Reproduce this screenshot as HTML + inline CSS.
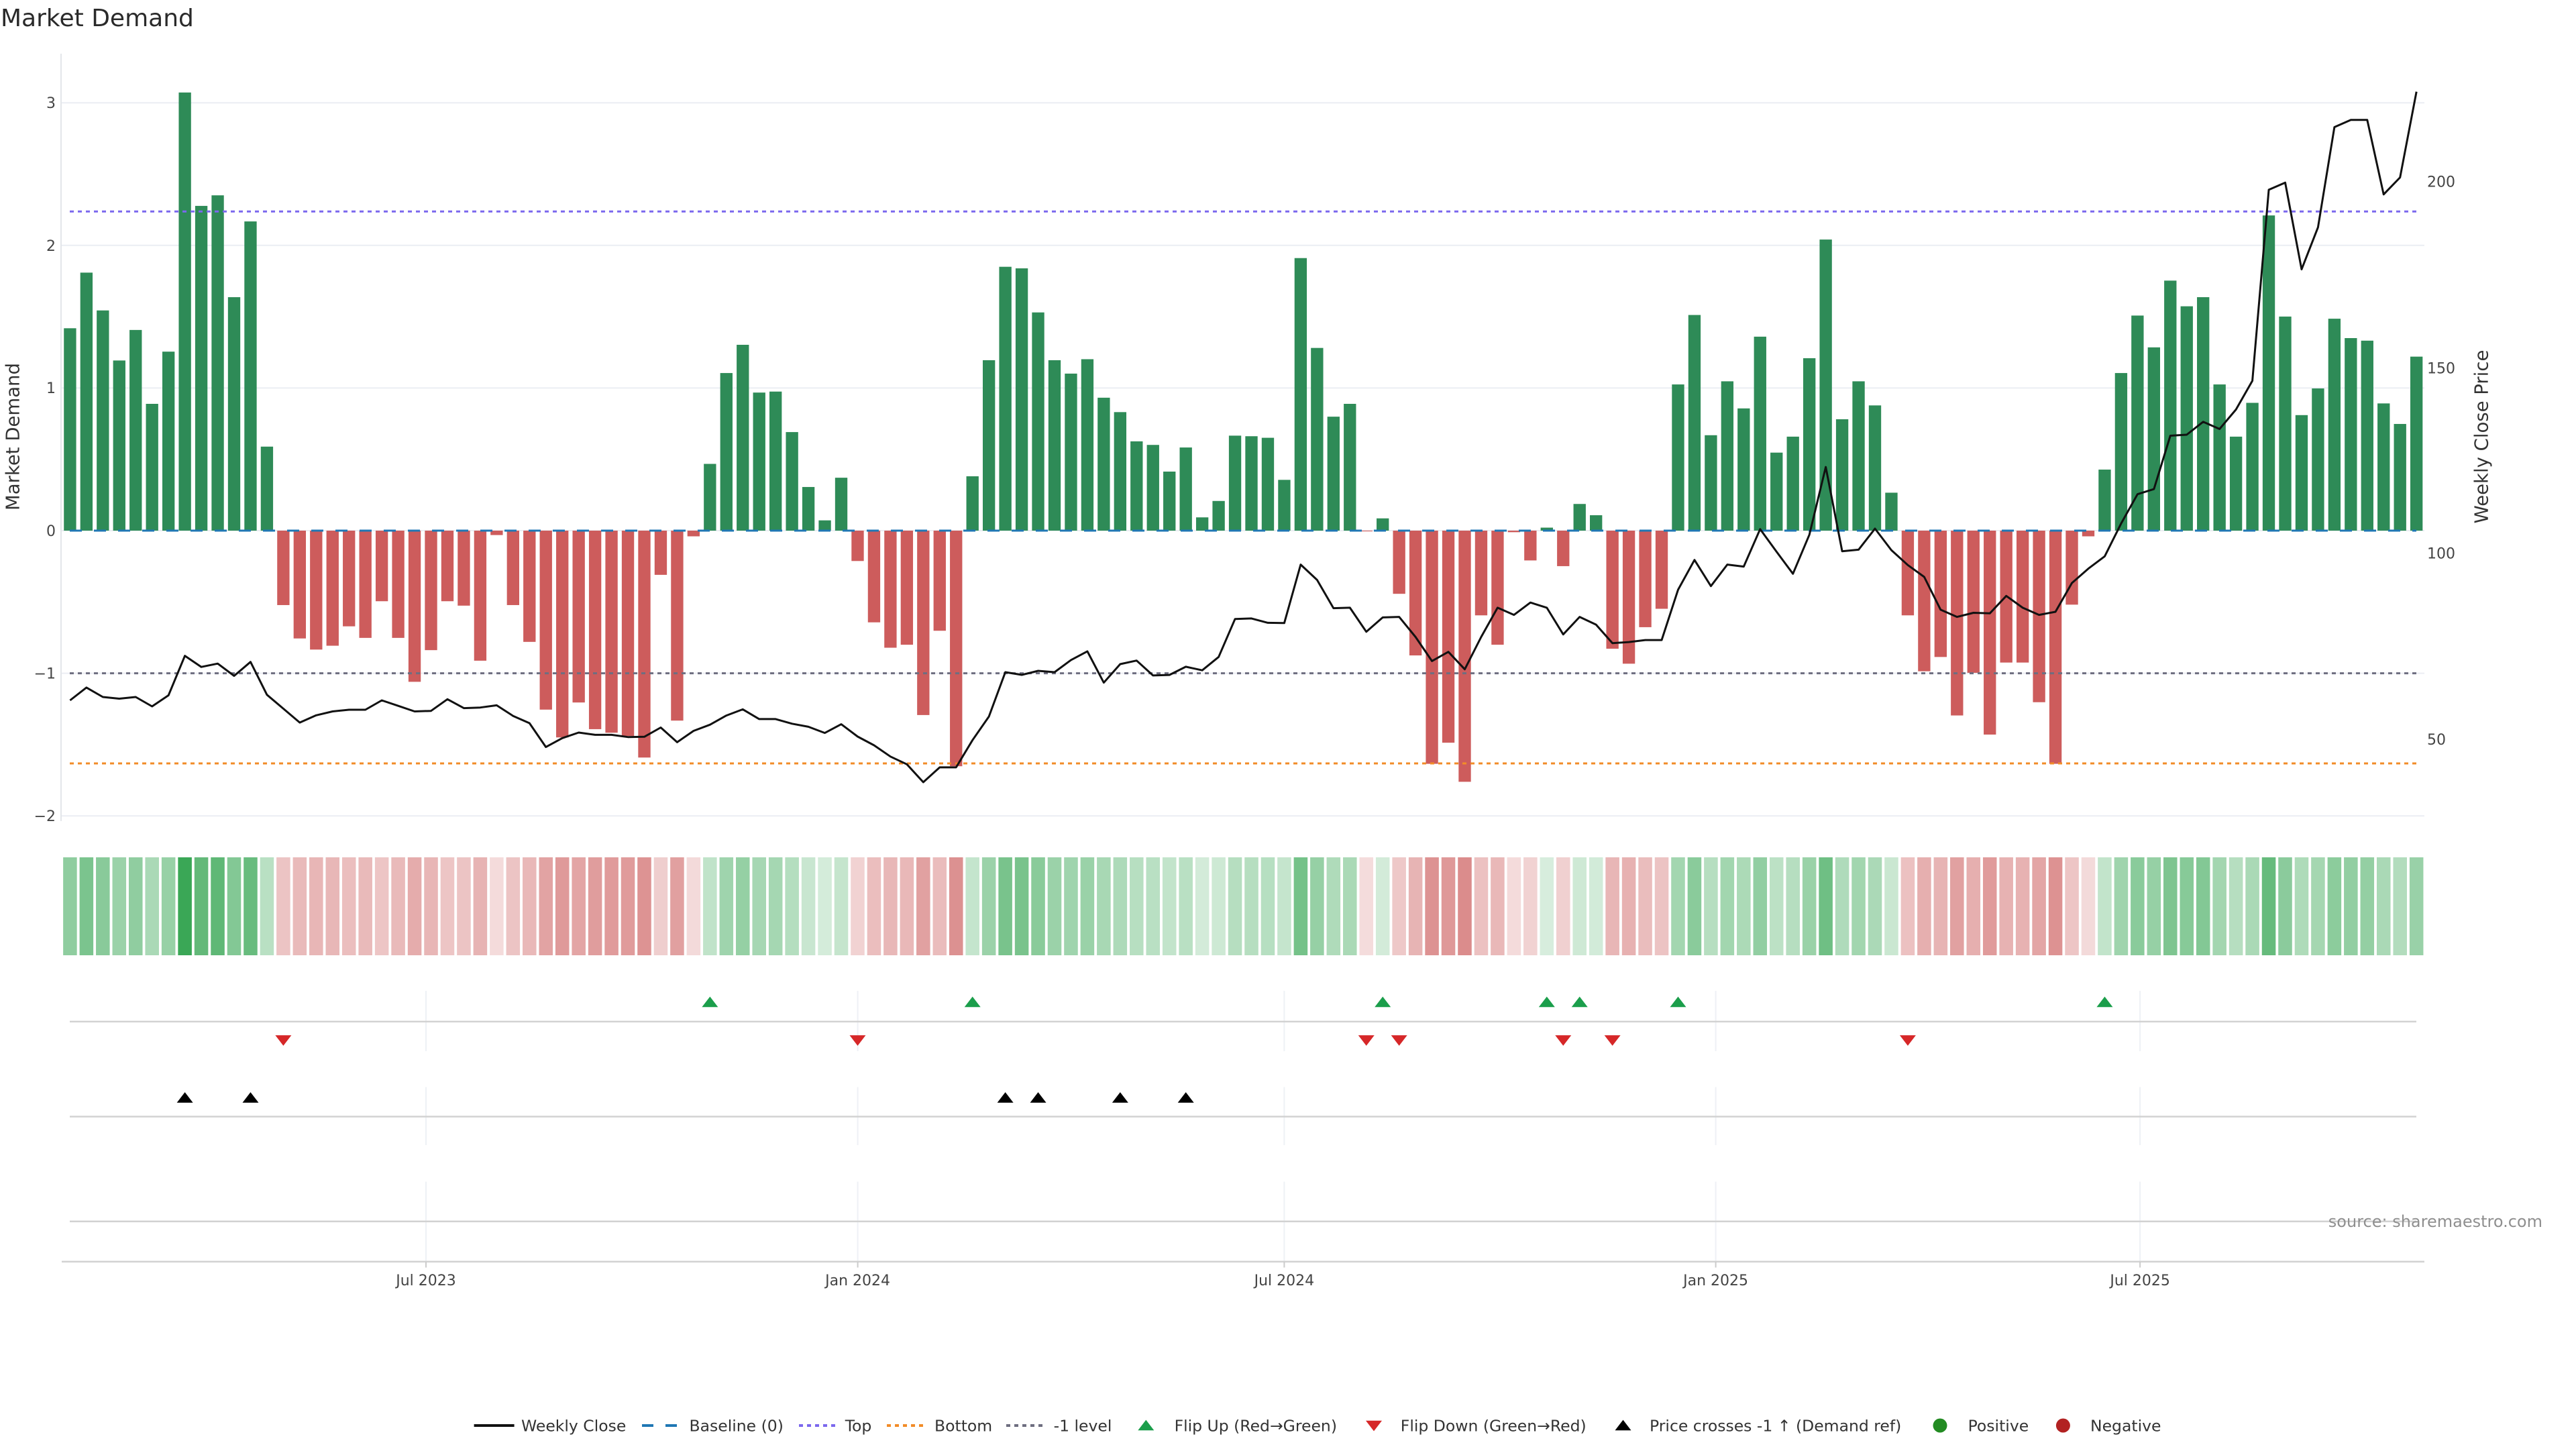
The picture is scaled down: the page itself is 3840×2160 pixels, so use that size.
<!DOCTYPE html>
<html><head><meta charset="utf-8"><title>Market Demand</title>
<style>
html,body{margin:0;padding:0;background:#fff;width:3840px;height:2160px;overflow:hidden}
svg{display:block}
text{font-family:"DejaVu Sans","Liberation Sans",sans-serif}
</style></head>
<body>
<svg width="3840" height="2160" viewBox="0 0 3840 2160" xmlns="http://www.w3.org/2000/svg">
<defs>
<path id="tu" d="M-12,5.2H12L0,-10.4Z"/>
<path id="td" d="M-12,-5.2H12L0,10.4Z"/>
</defs>
<rect width="3840" height="2160" fill="#fff"/>
<text x="1" y="39" font-size="36" fill="#2a2a2a">Market Demand</text>

<g stroke="#ebeef3" stroke-width="2">
<line x1="91" y1="153.2" x2="3614" y2="153.2"/>
<line x1="91" y1="365.8" x2="3614" y2="365.8"/>
<line x1="91" y1="578.4" x2="3614" y2="578.4"/>
<line x1="91" y1="791" x2="3614" y2="791"/>
<line x1="91" y1="1003.6" x2="3614" y2="1003.6"/>
<line x1="91" y1="1216.2" x2="3614" y2="1216.2"/>
</g>
<line x1="91" y1="80" x2="91" y2="1224" stroke="#e3e6ea" stroke-width="2"/>

<g font-size="22" fill="#444" text-anchor="end">
<text x="83" y="161">3</text>
<text x="83" y="374">2</text>
<text x="83" y="586">1</text>
<text x="83" y="799">0</text>
<text x="83" y="1011.6">−1</text>
<text x="83" y="1224">−2</text>
</g>
<text transform="translate(28.5,651) rotate(-90)" text-anchor="middle" font-size="27.5" fill="#333">Market Demand</text>

<g font-size="22" fill="#444">
<text x="3618" y="278.7">200</text>
<text x="3618" y="556.5">150</text>
<text x="3618" y="832.7">100</text>
<text x="3618" y="1109.8">50</text>
</g>
<text transform="translate(3708.5,651) rotate(-90)" text-anchor="middle" font-size="27.5" fill="#333">Weekly Close Price</text>

<g transform="translate(104.4,791) scale(24.46,-212.6)">
<g fill="#2e8b57">
<rect x="-0.375" y="0" width="0.75" height="1.419"/>
<rect x="0.625" y="0" width="0.75" height="1.809"/>
<rect x="1.625" y="0" width="0.75" height="1.544"/>
<rect x="2.625" y="0" width="0.75" height="1.193"/>
<rect x="3.625" y="0" width="0.75" height="1.407"/>
<rect x="4.625" y="0" width="0.75" height="0.889"/>
<rect x="5.625" y="0" width="0.75" height="1.255"/>
<rect x="6.625" y="0" width="0.75" height="3.072"/>
<rect x="7.625" y="0" width="0.75" height="2.277"/>
<rect x="8.625" y="0" width="0.75" height="2.351"/>
<rect x="9.625" y="0" width="0.75" height="1.637"/>
<rect x="10.625" y="0" width="0.75" height="2.168"/>
<rect x="11.625" y="0" width="0.75" height="0.589"/>
<rect x="38.625" y="0" width="0.75" height="0.468"/>
<rect x="39.625" y="0" width="0.75" height="1.105"/>
<rect x="40.625" y="0" width="0.75" height="1.303"/>
<rect x="41.625" y="0" width="0.75" height="0.968"/>
<rect x="42.625" y="0" width="0.75" height="0.975"/>
<rect x="43.625" y="0" width="0.75" height="0.691"/>
<rect x="44.625" y="0" width="0.75" height="0.306"/>
<rect x="45.625" y="0" width="0.75" height="0.072"/>
<rect x="46.625" y="0" width="0.75" height="0.371"/>
<rect x="54.625" y="0" width="0.75" height="0.381"/>
<rect x="55.625" y="0" width="0.75" height="1.195"/>
<rect x="56.625" y="0" width="0.75" height="1.85"/>
<rect x="57.625" y="0" width="0.75" height="1.839"/>
<rect x="58.625" y="0" width="0.75" height="1.53"/>
<rect x="59.625" y="0" width="0.75" height="1.195"/>
<rect x="60.625" y="0" width="0.75" height="1.101"/>
<rect x="61.625" y="0" width="0.75" height="1.202"/>
<rect x="62.625" y="0" width="0.75" height="0.932"/>
<rect x="63.625" y="0" width="0.75" height="0.831"/>
<rect x="64.625" y="0" width="0.75" height="0.626"/>
<rect x="65.625" y="0" width="0.75" height="0.601"/>
<rect x="66.625" y="0" width="0.75" height="0.414"/>
<rect x="67.625" y="0" width="0.75" height="0.583"/>
<rect x="68.625" y="0" width="0.75" height="0.093"/>
<rect x="69.625" y="0" width="0.75" height="0.208"/>
<rect x="70.625" y="0" width="0.75" height="0.666"/>
<rect x="71.625" y="0" width="0.75" height="0.662"/>
<rect x="72.625" y="0" width="0.75" height="0.651"/>
<rect x="73.625" y="0" width="0.75" height="0.356"/>
<rect x="74.625" y="0" width="0.75" height="1.911"/>
<rect x="75.625" y="0" width="0.75" height="1.281"/>
<rect x="76.625" y="0" width="0.75" height="0.799"/>
<rect x="77.625" y="0" width="0.75" height="0.889"/>
<rect x="79.625" y="0" width="0.75" height="0.086"/>
<rect x="89.625" y="0" width="0.75" height="0.021"/>
<rect x="91.625" y="0" width="0.75" height="0.187"/>
<rect x="92.625" y="0" width="0.75" height="0.108"/>
<rect x="97.625" y="0" width="0.75" height="1.025"/>
<rect x="98.625" y="0" width="0.75" height="1.512"/>
<rect x="99.625" y="0" width="0.75" height="0.669"/>
<rect x="100.625" y="0" width="0.75" height="1.047"/>
<rect x="101.625" y="0" width="0.75" height="0.857"/>
<rect x="102.625" y="0" width="0.75" height="1.36"/>
<rect x="103.625" y="0" width="0.75" height="0.547"/>
<rect x="104.625" y="0" width="0.75" height="0.659"/>
<rect x="105.625" y="0" width="0.75" height="1.209"/>
<rect x="106.625" y="0" width="0.75" height="2.041"/>
<rect x="107.625" y="0" width="0.75" height="0.781"/>
<rect x="108.625" y="0" width="0.75" height="1.047"/>
<rect x="109.625" y="0" width="0.75" height="0.878"/>
<rect x="110.625" y="0" width="0.75" height="0.266"/>
<rect x="123.625" y="0" width="0.75" height="0.428"/>
<rect x="124.625" y="0" width="0.75" height="1.105"/>
<rect x="125.625" y="0" width="0.75" height="1.508"/>
<rect x="126.625" y="0" width="0.75" height="1.285"/>
<rect x="127.625" y="0" width="0.75" height="1.753"/>
<rect x="128.625" y="0" width="0.75" height="1.573"/>
<rect x="129.625" y="0" width="0.75" height="1.637"/>
<rect x="130.625" y="0" width="0.75" height="1.025"/>
<rect x="131.625" y="0" width="0.75" height="0.659"/>
<rect x="132.625" y="0" width="0.75" height="0.896"/>
<rect x="133.625" y="0" width="0.75" height="2.21"/>
<rect x="134.625" y="0" width="0.75" height="1.501"/>
<rect x="135.625" y="0" width="0.75" height="0.81"/>
<rect x="136.625" y="0" width="0.75" height="0.997"/>
<rect x="137.625" y="0" width="0.75" height="1.486"/>
<rect x="138.625" y="0" width="0.75" height="1.35"/>
<rect x="139.625" y="0" width="0.75" height="1.332"/>
<rect x="140.625" y="0" width="0.75" height="0.892"/>
<rect x="141.625" y="0" width="0.75" height="0.748"/>
<rect x="142.625" y="0" width="0.75" height="1.22"/>
</g>
<g fill="#cd5c5c">
<rect x="12.625" y="-0.522" width="0.75" height="0.522"/>
<rect x="13.625" y="-0.756" width="0.75" height="0.756"/>
<rect x="14.625" y="-0.834" width="0.75" height="0.834"/>
<rect x="15.625" y="-0.807" width="0.75" height="0.807"/>
<rect x="16.625" y="-0.671" width="0.75" height="0.671"/>
<rect x="17.625" y="-0.752" width="0.75" height="0.752"/>
<rect x="18.625" y="-0.495" width="0.75" height="0.495"/>
<rect x="19.625" y="-0.752" width="0.75" height="0.752"/>
<rect x="20.625" y="-1.06" width="0.75" height="1.06"/>
<rect x="21.625" y="-0.838" width="0.75" height="0.838"/>
<rect x="22.625" y="-0.495" width="0.75" height="0.495"/>
<rect x="23.625" y="-0.526" width="0.75" height="0.526"/>
<rect x="24.625" y="-0.912" width="0.75" height="0.912"/>
<rect x="25.625" y="-0.031" width="0.75" height="0.031"/>
<rect x="26.625" y="-0.522" width="0.75" height="0.522"/>
<rect x="27.625" y="-0.78" width="0.75" height="0.78"/>
<rect x="28.625" y="-1.255" width="0.75" height="1.255"/>
<rect x="29.625" y="-1.45" width="0.75" height="1.45"/>
<rect x="30.625" y="-1.205" width="0.75" height="1.205"/>
<rect x="31.625" y="-1.392" width="0.75" height="1.392"/>
<rect x="32.625" y="-1.417" width="0.75" height="1.417"/>
<rect x="33.625" y="-1.44" width="0.75" height="1.44"/>
<rect x="34.625" y="-1.591" width="0.75" height="1.591"/>
<rect x="35.625" y="-0.31" width="0.75" height="0.31"/>
<rect x="36.625" y="-1.332" width="0.75" height="1.332"/>
<rect x="37.625" y="-0.04" width="0.75" height="0.04"/>
<rect x="47.625" y="-0.213" width="0.75" height="0.213"/>
<rect x="48.625" y="-0.643" width="0.75" height="0.643"/>
<rect x="49.625" y="-0.821" width="0.75" height="0.821"/>
<rect x="50.625" y="-0.8" width="0.75" height="0.8"/>
<rect x="51.625" y="-1.293" width="0.75" height="1.293"/>
<rect x="52.625" y="-0.702" width="0.75" height="0.702"/>
<rect x="53.625" y="-1.652" width="0.75" height="1.652"/>
<rect x="78.625" y="-0.005" width="0.75" height="0.005"/>
<rect x="80.625" y="-0.443" width="0.75" height="0.443"/>
<rect x="81.625" y="-0.875" width="0.75" height="0.875"/>
<rect x="82.625" y="-1.635" width="0.75" height="1.635"/>
<rect x="83.625" y="-1.487" width="0.75" height="1.487"/>
<rect x="84.625" y="-1.761" width="0.75" height="1.761"/>
<rect x="85.625" y="-0.594" width="0.75" height="0.594"/>
<rect x="86.625" y="-0.8" width="0.75" height="0.8"/>
<rect x="87.625" y="-0.011" width="0.75" height="0.011"/>
<rect x="88.625" y="-0.209" width="0.75" height="0.209"/>
<rect x="90.625" y="-0.249" width="0.75" height="0.249"/>
<rect x="93.625" y="-0.828" width="0.75" height="0.828"/>
<rect x="94.625" y="-0.933" width="0.75" height="0.933"/>
<rect x="95.625" y="-0.677" width="0.75" height="0.677"/>
<rect x="96.625" y="-0.548" width="0.75" height="0.548"/>
<rect x="111.625" y="-0.594" width="0.75" height="0.594"/>
<rect x="112.625" y="-0.986" width="0.75" height="0.986"/>
<rect x="113.625" y="-0.886" width="0.75" height="0.886"/>
<rect x="114.625" y="-1.296" width="0.75" height="1.296"/>
<rect x="115.625" y="-0.997" width="0.75" height="0.997"/>
<rect x="116.625" y="-1.43" width="0.75" height="1.43"/>
<rect x="117.625" y="-0.925" width="0.75" height="0.925"/>
<rect x="118.625" y="-0.925" width="0.75" height="0.925"/>
<rect x="119.625" y="-1.203" width="0.75" height="1.203"/>
<rect x="120.625" y="-1.635" width="0.75" height="1.635"/>
<rect x="121.625" y="-0.519" width="0.75" height="0.519"/>
<rect x="122.625" y="-0.04" width="0.75" height="0.04"/>
</g>
</g>

<line x1="104" y1="791" x2="3602" y2="791" stroke="#1f77b4" stroke-width="3" stroke-dasharray="18 18"/>
<line x1="104" y1="315.2" x2="3602" y2="315.2" stroke="#7b68ee" stroke-width="3" stroke-dasharray="6 6"/>
<line x1="104" y1="1003.6" x2="3602" y2="1003.6" stroke="#6e6e80" stroke-width="3" stroke-dasharray="6 6"/>
<line x1="104" y1="1138" x2="3602" y2="1138" stroke="#f28c28" stroke-width="3" stroke-dasharray="6 6"/>

<polyline transform="translate(104.4,0) scale(24.46,1)" vector-effect="non-scaling-stroke" fill="none" stroke="#111" stroke-width="3" stroke-linejoin="round" points="0,1044 1,1024.9 2,1039 3,1041.5 4,1039 5,1053 6,1036.5 7,977.6 8,994.2 9,989.2 10,1007.5 11,986.7 12,1035.7 13,1056.4 14,1077.1 15,1066.3 16,1060.5 17,1058 18,1058 19,1044 20,1052.2 21,1060.5 22,1059.7 23,1042.3 24,1055.6 25,1054.7 26,1051.4 27,1067.2 28,1078 29,1113.6 30,1100.3 31,1092 32,1095.4 33,1095.4 34,1098.7 35,1098.3 36,1084.5 37,1106.4 38,1089.5 39,1080.3 40,1066.6 41,1057.4 42,1071.9 43,1071.9 44,1078.8 45,1083.4 46,1092.6 47,1079.6 48,1098 49,1111 50,1127.8 51,1139.3 52,1166 53,1143.9 54,1143.9 55,1103.3 56,1068.1 57,1002 58,1006 59,1000 60,1002 61,983.9 62,970.9 63,1017.6 64,990 65,984.7 66,1006.9 67,1006.1 68,993.9 69,999.2 70,979.3 71,922.7 72,921.9 73,928.4 74,928.8 75,841.6 76,864.5 77,906.6 78,905.9 79,941.8 80,920.4 81,919.6 82,949.5 83,985.4 84,971.7 85,997.7 86,949.5 87,905.9 88,916.6 89,898.2 90,905.9 91,945.7 92,919.6 93,931.1 94,958.7 95,957.1 96,954.1 97,954.1 98,879.1 99,834.7 100,873.7 101,841.6 102,844.6 103,788.8 104,822.4 105,855.3 106,797.2 107,696.2 108,821.7 109,819.4 110,788 111,820.1 112,842.3 113,860 114,908.9 115,919.6 116,913.5 117,914.3 118,888.3 119,905.9 120,916.6 121,912 122,869.1 123,847.7 124,829.3 125,780.4 126,736.7 127,729.1 128,649.5 129,648 130,628.8 131,639.5 132,610.5 133,567.6 134,282.9 135,272.2 136,401.5 137,338.8 138,189.5 139,178.8 140,178.8 141,289.8 142,264.5 143,136.7"/>

<g transform="translate(104.4,0) scale(24.46,1)">
<g fill="#3aa756">
<rect x="-0.42" y="1278" width="0.84" height="146" fill-opacity=".569"/>
<rect x="0.58" y="1278" width="0.84" height="146" fill-opacity=".670"/>
<rect x="1.58" y="1278" width="0.84" height="146" fill-opacity=".601"/>
<rect x="2.58" y="1278" width="0.84" height="146" fill-opacity=".510"/>
<rect x="3.58" y="1278" width="0.84" height="146" fill-opacity=".566"/>
<rect x="4.58" y="1278" width="0.84" height="146" fill-opacity=".431"/>
<rect x="5.58" y="1278" width="0.84" height="146" fill-opacity=".526"/>
<rect x="6.58" y="1278" width="0.84" height="146" fill-opacity="1"/>
<rect x="7.58" y="1278" width="0.84" height="146" fill-opacity=".792"/>
<rect x="8.58" y="1278" width="0.84" height="146" fill-opacity=".811"/>
<rect x="9.58" y="1278" width="0.84" height="146" fill-opacity=".626"/>
<rect x="10.58" y="1278" width="0.84" height="146" fill-opacity=".764"/>
<rect x="11.58" y="1278" width="0.84" height="146" fill-opacity=".353"/>
<rect x="38.58" y="1278" width="0.84" height="146" fill-opacity=".322"/>
<rect x="39.58" y="1278" width="0.84" height="146" fill-opacity=".487"/>
<rect x="40.58" y="1278" width="0.84" height="146" fill-opacity=".539"/>
<rect x="41.58" y="1278" width="0.84" height="146" fill-opacity=".452"/>
<rect x="42.58" y="1278" width="0.84" height="146" fill-opacity=".454"/>
<rect x="43.58" y="1278" width="0.84" height="146" fill-opacity=".380"/>
<rect x="44.58" y="1278" width="0.84" height="146" fill-opacity=".280"/>
<rect x="45.58" y="1278" width="0.84" height="146" fill-opacity=".219"/>
<rect x="46.58" y="1278" width="0.84" height="146" fill-opacity=".296"/>
<rect x="54.58" y="1278" width="0.84" height="146" fill-opacity=".299"/>
<rect x="55.58" y="1278" width="0.84" height="146" fill-opacity=".511"/>
<rect x="56.58" y="1278" width="0.84" height="146" fill-opacity=".681"/>
<rect x="57.58" y="1278" width="0.84" height="146" fill-opacity=".678"/>
<rect x="58.58" y="1278" width="0.84" height="146" fill-opacity=".598"/>
<rect x="59.58" y="1278" width="0.84" height="146" fill-opacity=".511"/>
<rect x="60.58" y="1278" width="0.84" height="146" fill-opacity=".486"/>
<rect x="61.58" y="1278" width="0.84" height="146" fill-opacity=".513"/>
<rect x="62.58" y="1278" width="0.84" height="146" fill-opacity=".442"/>
<rect x="63.58" y="1278" width="0.84" height="146" fill-opacity=".416"/>
<rect x="64.58" y="1278" width="0.84" height="146" fill-opacity=".363"/>
<rect x="65.58" y="1278" width="0.84" height="146" fill-opacity=".356"/>
<rect x="66.58" y="1278" width="0.84" height="146" fill-opacity=".308"/>
<rect x="67.58" y="1278" width="0.84" height="146" fill-opacity=".352"/>
<rect x="68.58" y="1278" width="0.84" height="146" fill-opacity=".224"/>
<rect x="69.58" y="1278" width="0.84" height="146" fill-opacity=".254"/>
<rect x="70.58" y="1278" width="0.84" height="146" fill-opacity=".373"/>
<rect x="71.58" y="1278" width="0.84" height="146" fill-opacity=".372"/>
<rect x="72.58" y="1278" width="0.84" height="146" fill-opacity=".369"/>
<rect x="73.58" y="1278" width="0.84" height="146" fill-opacity=".293"/>
<rect x="74.58" y="1278" width="0.84" height="146" fill-opacity=".697"/>
<rect x="75.58" y="1278" width="0.84" height="146" fill-opacity=".533"/>
<rect x="76.58" y="1278" width="0.84" height="146" fill-opacity=".408"/>
<rect x="77.58" y="1278" width="0.84" height="146" fill-opacity=".431"/>
<rect x="79.58" y="1278" width="0.84" height="146" fill-opacity=".222"/>
<rect x="89.58" y="1278" width="0.84" height="146" fill-opacity=".205"/>
<rect x="91.58" y="1278" width="0.84" height="146" fill-opacity=".249"/>
<rect x="92.58" y="1278" width="0.84" height="146" fill-opacity=".228"/>
<rect x="97.58" y="1278" width="0.84" height="146" fill-opacity=".467"/>
<rect x="98.58" y="1278" width="0.84" height="146" fill-opacity=".593"/>
<rect x="99.58" y="1278" width="0.84" height="146" fill-opacity=".374"/>
<rect x="100.58" y="1278" width="0.84" height="146" fill-opacity=".472"/>
<rect x="101.58" y="1278" width="0.84" height="146" fill-opacity=".423"/>
<rect x="102.58" y="1278" width="0.84" height="146" fill-opacity=".554"/>
<rect x="103.58" y="1278" width="0.84" height="146" fill-opacity=".342"/>
<rect x="104.58" y="1278" width="0.84" height="146" fill-opacity=".371"/>
<rect x="105.58" y="1278" width="0.84" height="146" fill-opacity=".514"/>
<rect x="106.58" y="1278" width="0.84" height="146" fill-opacity=".731"/>
<rect x="107.58" y="1278" width="0.84" height="146" fill-opacity=".403"/>
<rect x="108.58" y="1278" width="0.84" height="146" fill-opacity=".472"/>
<rect x="109.58" y="1278" width="0.84" height="146" fill-opacity=".428"/>
<rect x="110.58" y="1278" width="0.84" height="146" fill-opacity=".269"/>
<rect x="123.58" y="1278" width="0.84" height="146" fill-opacity=".311"/>
<rect x="124.58" y="1278" width="0.84" height="146" fill-opacity=".487"/>
<rect x="125.58" y="1278" width="0.84" height="146" fill-opacity=".592"/>
<rect x="126.58" y="1278" width="0.84" height="146" fill-opacity=".534"/>
<rect x="127.58" y="1278" width="0.84" height="146" fill-opacity=".656"/>
<rect x="128.58" y="1278" width="0.84" height="146" fill-opacity=".609"/>
<rect x="129.58" y="1278" width="0.84" height="146" fill-opacity=".626"/>
<rect x="130.58" y="1278" width="0.84" height="146" fill-opacity=".467"/>
<rect x="131.58" y="1278" width="0.84" height="146" fill-opacity=".371"/>
<rect x="132.58" y="1278" width="0.84" height="146" fill-opacity=".433"/>
<rect x="133.58" y="1278" width="0.84" height="146" fill-opacity=".775"/>
<rect x="134.58" y="1278" width="0.84" height="146" fill-opacity=".590"/>
<rect x="135.58" y="1278" width="0.84" height="146" fill-opacity=".411"/>
<rect x="136.58" y="1278" width="0.84" height="146" fill-opacity=".459"/>
<rect x="137.58" y="1278" width="0.84" height="146" fill-opacity=".586"/>
<rect x="138.58" y="1278" width="0.84" height="146" fill-opacity=".551"/>
<rect x="139.58" y="1278" width="0.84" height="146" fill-opacity=".546"/>
<rect x="140.58" y="1278" width="0.84" height="146" fill-opacity=".432"/>
<rect x="141.58" y="1278" width="0.84" height="146" fill-opacity=".394"/>
<rect x="142.58" y="1278" width="0.84" height="146" fill-opacity=".517"/>
</g>
<g fill="#c85050">
<rect x="12.58" y="1278" width="0.84" height="146" fill-opacity=".336"/>
<rect x="13.58" y="1278" width="0.84" height="146" fill-opacity=".397"/>
<rect x="14.58" y="1278" width="0.84" height="146" fill-opacity=".417"/>
<rect x="15.58" y="1278" width="0.84" height="146" fill-opacity=".410"/>
<rect x="16.58" y="1278" width="0.84" height="146" fill-opacity=".374"/>
<rect x="17.58" y="1278" width="0.84" height="146" fill-opacity=".396"/>
<rect x="18.58" y="1278" width="0.84" height="146" fill-opacity=".329"/>
<rect x="19.58" y="1278" width="0.84" height="146" fill-opacity=".396"/>
<rect x="20.58" y="1278" width="0.84" height="146" fill-opacity=".476"/>
<rect x="21.58" y="1278" width="0.84" height="146" fill-opacity=".418"/>
<rect x="22.58" y="1278" width="0.84" height="146" fill-opacity=".329"/>
<rect x="23.58" y="1278" width="0.84" height="146" fill-opacity=".337"/>
<rect x="24.58" y="1278" width="0.84" height="146" fill-opacity=".437"/>
<rect x="25.58" y="1278" width="0.84" height="146" fill-opacity=".208"/>
<rect x="26.58" y="1278" width="0.84" height="146" fill-opacity=".336"/>
<rect x="27.58" y="1278" width="0.84" height="146" fill-opacity=".403"/>
<rect x="28.58" y="1278" width="0.84" height="146" fill-opacity=".526"/>
<rect x="29.58" y="1278" width="0.84" height="146" fill-opacity=".577"/>
<rect x="30.58" y="1278" width="0.84" height="146" fill-opacity=".513"/>
<rect x="31.58" y="1278" width="0.84" height="146" fill-opacity=".562"/>
<rect x="32.58" y="1278" width="0.84" height="146" fill-opacity=".568"/>
<rect x="33.58" y="1278" width="0.84" height="146" fill-opacity=".574"/>
<rect x="34.58" y="1278" width="0.84" height="146" fill-opacity=".614"/>
<rect x="35.58" y="1278" width="0.84" height="146" fill-opacity=".281"/>
<rect x="36.58" y="1278" width="0.84" height="146" fill-opacity=".546"/>
<rect x="37.58" y="1278" width="0.84" height="146" fill-opacity=".210"/>
<rect x="47.58" y="1278" width="0.84" height="146" fill-opacity=".255"/>
<rect x="48.58" y="1278" width="0.84" height="146" fill-opacity=".367"/>
<rect x="49.58" y="1278" width="0.84" height="146" fill-opacity=".413"/>
<rect x="50.58" y="1278" width="0.84" height="146" fill-opacity=".408"/>
<rect x="51.58" y="1278" width="0.84" height="146" fill-opacity=".536"/>
<rect x="52.58" y="1278" width="0.84" height="146" fill-opacity=".383"/>
<rect x="53.58" y="1278" width="0.84" height="146" fill-opacity=".630"/>
<rect x="78.58" y="1278" width="0.84" height="146" fill-opacity=".201"/>
<rect x="80.58" y="1278" width="0.84" height="146" fill-opacity=".315"/>
<rect x="81.58" y="1278" width="0.84" height="146" fill-opacity=".428"/>
<rect x="82.58" y="1278" width="0.84" height="146" fill-opacity=".625"/>
<rect x="83.58" y="1278" width="0.84" height="146" fill-opacity=".587"/>
<rect x="84.58" y="1278" width="0.84" height="146" fill-opacity=".658"/>
<rect x="85.58" y="1278" width="0.84" height="146" fill-opacity=".354"/>
<rect x="86.58" y="1278" width="0.84" height="146" fill-opacity=".408"/>
<rect x="87.58" y="1278" width="0.84" height="146" fill-opacity=".203"/>
<rect x="88.58" y="1278" width="0.84" height="146" fill-opacity=".254"/>
<rect x="90.58" y="1278" width="0.84" height="146" fill-opacity=".265"/>
<rect x="93.58" y="1278" width="0.84" height="146" fill-opacity=".415"/>
<rect x="94.58" y="1278" width="0.84" height="146" fill-opacity=".443"/>
<rect x="95.58" y="1278" width="0.84" height="146" fill-opacity=".376"/>
<rect x="96.58" y="1278" width="0.84" height="146" fill-opacity=".342"/>
<rect x="111.58" y="1278" width="0.84" height="146" fill-opacity=".354"/>
<rect x="112.58" y="1278" width="0.84" height="146" fill-opacity=".456"/>
<rect x="113.58" y="1278" width="0.84" height="146" fill-opacity=".430"/>
<rect x="114.58" y="1278" width="0.84" height="146" fill-opacity=".537"/>
<rect x="115.58" y="1278" width="0.84" height="146" fill-opacity=".459"/>
<rect x="116.58" y="1278" width="0.84" height="146" fill-opacity=".572"/>
<rect x="117.58" y="1278" width="0.84" height="146" fill-opacity=".441"/>
<rect x="118.58" y="1278" width="0.84" height="146" fill-opacity=".441"/>
<rect x="119.58" y="1278" width="0.84" height="146" fill-opacity=".513"/>
<rect x="120.58" y="1278" width="0.84" height="146" fill-opacity=".625"/>
<rect x="121.58" y="1278" width="0.84" height="146" fill-opacity=".335"/>
<rect x="122.58" y="1278" width="0.84" height="146" fill-opacity=".210"/>
</g>
</g>

<g stroke="#eef1f5" stroke-width="2">
<line x1="635" y1="1477" x2="635" y2="1567"/><line x1="1278.6" y1="1477" x2="1278.6" y2="1567"/><line x1="1914.4" y1="1477" x2="1914.4" y2="1567"/><line x1="2557.6" y1="1477" x2="2557.6" y2="1567"/><line x1="3190.1" y1="1477" x2="3190.1" y2="1567"/>
<line x1="635" y1="1620.5" x2="635" y2="1707"/><line x1="1278.6" y1="1620.5" x2="1278.6" y2="1707"/><line x1="1914.4" y1="1620.5" x2="1914.4" y2="1707"/><line x1="2557.6" y1="1620.5" x2="2557.6" y2="1707"/><line x1="3190.1" y1="1620.5" x2="3190.1" y2="1707"/>
<line x1="635" y1="1761.5" x2="635" y2="1880"/><line x1="1278.6" y1="1761.5" x2="1278.6" y2="1880"/><line x1="1914.4" y1="1761.5" x2="1914.4" y2="1880"/><line x1="2557.6" y1="1761.5" x2="2557.6" y2="1880"/><line x1="3190.1" y1="1761.5" x2="3190.1" y2="1880"/>
</g>
<g stroke="#d2d2d2" stroke-width="2.5">
<line x1="104" y1="1522.9" x2="3602" y2="1522.9"/>
<line x1="104" y1="1664.5" x2="3602" y2="1664.5"/>
<line x1="104" y1="1820.7" x2="3602" y2="1820.7"/>
<line x1="92" y1="1880.7" x2="3614" y2="1880.7"/>
</g>
<g stroke="#cccccc" stroke-width="2">
<line x1="635" y1="1880.7" x2="635" y2="1889.5"/><line x1="1278.6" y1="1880.7" x2="1278.6" y2="1889.5"/><line x1="1914.4" y1="1880.7" x2="1914.4" y2="1889.5"/><line x1="2557.6" y1="1880.7" x2="2557.6" y2="1889.5"/><line x1="3190.1" y1="1880.7" x2="3190.1" y2="1889.5"/>
</g>
<g font-size="22" fill="#444" text-anchor="middle">
<text x="635" y="1916">Jul 2023</text>
<text x="1278.6" y="1916">Jan 2024</text>
<text x="1914.4" y="1916">Jul 2024</text>
<text x="2557.6" y="1916">Jan 2025</text>
<text x="3190.1" y="1916">Jul 2025</text>
</g>

<g fill="#1b9e4b">
<use href="#tu" x="1058.34" y="1496"/>
<use href="#tu" x="1449.7" y="1496"/>
<use href="#tu" x="2061.2" y="1496"/>
<use href="#tu" x="2305.8" y="1496"/>
<use href="#tu" x="2354.72" y="1496"/>
<use href="#tu" x="2501.48" y="1496"/>
<use href="#tu" x="3137.44" y="1496"/>
</g>
<g fill="#d62728">
<use href="#td" x="422.38" y="1548.5"/>
<use href="#td" x="1278.48" y="1548.5"/>
<use href="#td" x="2036.74" y="1548.5"/>
<use href="#td" x="2085.66" y="1548.5"/>
<use href="#td" x="2330.26" y="1548.5"/>
<use href="#td" x="2403.64" y="1548.5"/>
<use href="#td" x="2843.92" y="1548.5"/>
</g>
<g fill="#000">
<use href="#tu" x="275.62" y="1638.5"/>
<use href="#tu" x="373.46" y="1638.5"/>
<use href="#tu" x="1498.62" y="1638.5"/>
<use href="#tu" x="1547.54" y="1638.5"/>
<use href="#tu" x="1669.84" y="1638.5"/>
<use href="#tu" x="1767.68" y="1638.5"/>
</g>

<text x="3790" y="1829" font-size="24" fill="#8f8f8f" text-anchor="end">source: sharemaestro.com</text>

<line x1="706.6" y1="2125" x2="766.6" y2="2125" stroke="#111" stroke-width="4"/>
<line x1="957" y1="2125" x2="1009" y2="2125" stroke="#1f77b4" stroke-width="4" stroke-dasharray="17 18"/>
<line x1="1191" y1="2125" x2="1245" y2="2125" stroke="#7b68ee" stroke-width="4" stroke-dasharray="6 6"/>
<line x1="1322" y1="2125" x2="1376" y2="2125" stroke="#f28c28" stroke-width="4" stroke-dasharray="6 6"/>
<line x1="1500" y1="2125" x2="1554" y2="2125" stroke="#6e6e80" stroke-width="4" stroke-dasharray="6 6"/>
<use href="#tu" x="1708.3" y="2127" fill="#1b9e4b"/>
<use href="#td" x="2048" y="2123" fill="#d62728"/>
<use href="#tu" x="2419.5" y="2127" fill="#000"/>
<circle cx="2892" cy="2125" r="10.5" fill="#228b22"/>
<circle cx="3075.4" cy="2125" r="10.5" fill="#b22222"/>
<g font-size="23.5" fill="#333">
<text x="777" y="2133.5">Weekly Close</text>
<text x="1027.5" y="2133.5">Baseline (0)</text>
<text x="1259.7" y="2133.5">Top</text>
<text x="1393" y="2133.5">Bottom</text>
<text x="1570.6" y="2133.5">-1 level</text>
<text x="1750.6" y="2133.5">Flip Up (Red→Green)</text>
<text x="2087.8" y="2133.5">Flip Down (Green→Red)</text>
<text x="2459" y="2133.5">Price crosses -1 ↑ (Demand ref)</text>
<text x="2933.6" y="2133.5">Positive</text>
<text x="3116" y="2133.5">Negative</text>
</g>
</svg>
</body></html>
